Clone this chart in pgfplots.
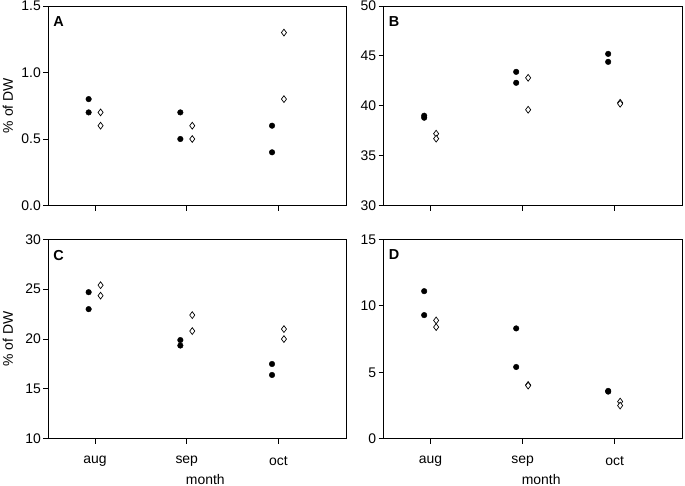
\documentclass[border=0pt]{standalone}
\usepackage{fontspec}
\setmainfont{Liberation Sans}
\usepackage{pgfplots}
\pgfplotsset{compat=1.18}
\pgfplotsset{
  panel/.style={
    scale only axis, width=298bp, height=199.5bp,
    xmin=0.49, xmax=3.74, xtick={1,2,3},
    xticklabels={},
    tick align=outside, major tick length=5bp,
    xtick pos=bottom, ytick pos=left,
    axis line style={black, line width=0.9pt},
    every tick/.style={black, line width=0.9pt},
    minor tick num=0,
    ticklabel style={font=\fontsize{14}{16}\selectfont},
    xticklabel style={yshift=-9bp},
    yticklabel style={xshift=1bp},
    label style={font=\fontsize{14}{16}\selectfont},
    /pgf/number format/assume math mode=true,
    clip=false,
    ylabel style={at={([xshift=-40.5bp]axis description cs:0,0.5)}, anchor=center},
    xlabel style={at={([xshift=8bp,yshift=-40.5bp]axis description cs:0.5,0)}, anchor=center},
  },
  circ/.style={only marks, mark=*, mark size=2.8bp, mark options={fill=black, draw=black}},
  diam/.style={only marks, mark=diamond*, mark size=3.4bp, mark options={fill=white, draw=black, line width=0.7pt}},
}
\newcommand{\panellabel}[1]{\node[anchor=north west, inner sep=0pt, font=\fontsize{14.5}{16}\selectfont\bfseries] at ([xshift=5bp,yshift=-10.5bp]rel axis cs:0,1) {#1};}
\begin{document}
\begin{tikzpicture}
\path[use as bounding box] (0,0) rectangle (685bp,-486bp);
% Panel A
\begin{axis}[panel, at={(48.3bp,-6bp)}, anchor=north west,
  ymin=0, ymax=1.5, ytick={0,0.5,1.0,1.5},
  yticklabel style={/pgf/number format/.cd, fixed, fixed zerofill, precision=1},
  ylabel={\% of DW}]
\addplot[circ] coordinates {(0.93,0.8) (0.93,0.7) (1.93,0.7) (1.93,0.5) (2.93,0.6) (2.93,0.4)};
\addplot[diam] coordinates {(1.06,0.7) (1.06,0.6) (2.06,0.6) (2.06,0.5) (3.06,1.3) (3.06,0.8)};
\panellabel{A}
\end{axis}
% Panel B
\begin{axis}[panel, at={(383.7bp,-6bp)}, anchor=north west,
  width=299bp,
  ymin=30, ymax=50, ytick={30,35,40,45,50}]
\addplot[circ] coordinates {(0.93,39.0) (0.93,38.8) (1.93,43.4) (1.93,42.3) (2.93,45.2) (2.93,44.4)};
\addplot[diam] coordinates {(1.06,37.2) (1.06,36.7) (2.06,42.8) (2.06,39.6) (3.06,40.3) (3.06,40.2)};
\panellabel{B}
\end{axis}
% Panel C
\begin{axis}[panel, at={(48.3bp,-239.3bp)}, anchor=north west,
  ymin=10, ymax=30, ytick={10,15,20,25,30},
  xticklabels={aug,sep,oct},
  ylabel={\% of DW}, xlabel={month}]
\addplot[circ] coordinates {(0.93,24.7) (0.93,23.0) (1.93,19.9) (1.93,19.35) (2.93,17.5) (2.93,16.4)};
\addplot[diam] coordinates {(1.06,25.4) (1.06,24.35) (2.06,22.4) (2.06,20.8) (3.06,21.0) (3.06,20.0)};
\panellabel{C}
\end{axis}
% Panel D
\begin{axis}[panel, at={(383.7bp,-239.3bp)}, anchor=north west,
  width=299bp,
  ymin=0, ymax=15, ytick={0,5,10,15},
  xticklabels={aug,sep,oct},
  xlabel={month}]
\addplot[circ] coordinates {(0.93,11.1) (0.93,9.3) (1.93,8.3) (1.93,5.4) (2.93,3.6) (2.93,3.55)};
\addplot[diam] coordinates {(1.06,8.9) (1.06,8.4) (2.06,4.05) (2.06,4.0) (3.06,2.8) (3.06,2.5)};
\panellabel{D}
\end{axis}
\end{tikzpicture}
\end{document}
